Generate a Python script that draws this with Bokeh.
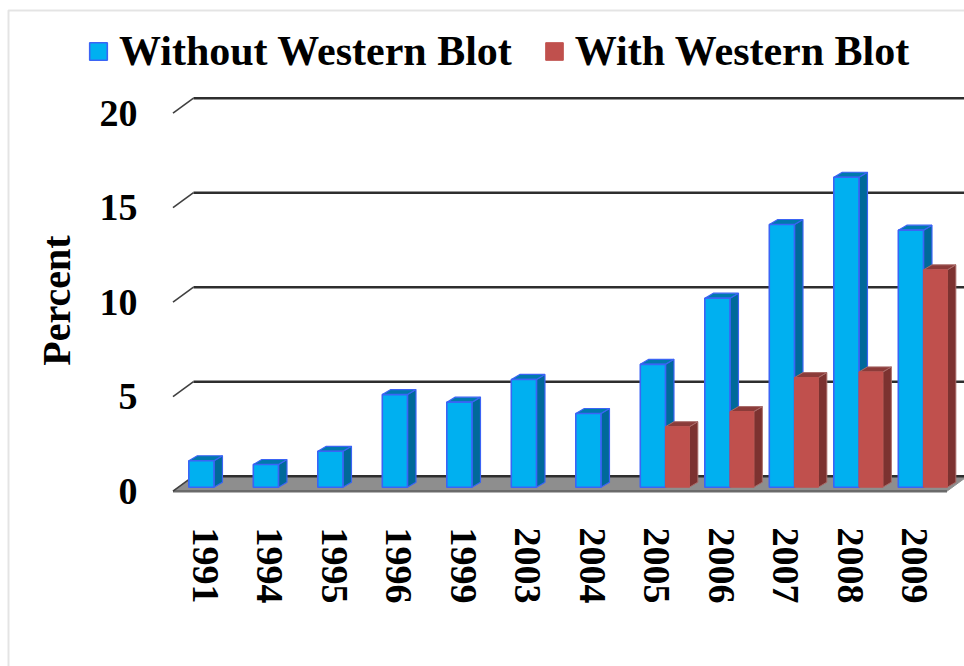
import math
from bokeh.plotting import figure
from bokeh.models import (Range1d, FixedTicker, Legend, LegendItem,
                          ColumnDataSource, BoxAnnotation, Label)
from bokeh.embed import file_html
from bokeh.resources import INLINE

# ---------------- data ----------------
years = ["1991", "1994", "1995", "1996", "1999", "2003", "2004",
         "2005", "2006", "2007", "2008", "2009"]
without_wb = [1.4, 1.2, 1.9, 4.9, 4.5, 5.7, 3.9, 6.5, 10.0, 13.9, 16.4, 13.6]
with_wb = [None, None, None, None, None, None, None, 3.2, 4.0, 5.8, 6.1, 11.5]
y_ticks = [0, 5, 10, 15, 20]
series_names = ["Without Western Blot", "With Western Blot"]
y_title = "Percent"

# ---------------- 3D geometry (styling) ----------------
GDX, GDY = 0.318, 0.794      # depth of the floor / back wall
BDX, BDY = 0.132, 0.265      # depth of each bar
Z0 = 0.212                   # bar base (sits a bit into the floor)
BLUE_L, BLUE_R = 0.245, 0.635
RED_L, RED_R = 0.635, 1.005
N = len(years)
cat_pos = [i + 0.5 for i in range(N)]

FONT = "Liberation Serif"


def faces(vals, lo, hi):
    front = dict(left=[], right=[], bottom=[], top=[])
    side = dict(xs=[], ys=[])
    top = dict(xs=[], ys=[])
    for i, v in enumerate(vals):
        if v is None:
            continue
        xl, xr = i + lo, i + hi
        yt = v + Z0
        front["left"].append(xl); front["right"].append(xr)
        front["bottom"].append(Z0); front["top"].append(yt)
        side["xs"].append([xr, xr, xr + BDX, xr + BDX])
        side["ys"].append([Z0, yt, yt + BDY, Z0 + BDY])
        top["xs"].append([xl, xr, xr + BDX, xl + BDX])
        top["ys"].append([yt, yt, yt + BDY, yt + BDY])
    return (ColumnDataSource(front), ColumnDataSource(side), ColumnDataSource(top))


p = figure(width=964, height=666,
           x_range=Range1d(-2.6744, 12.2713),
           y_range=Range1d(-9.275, 25.963),
           output_backend="svg", toolbar_location=None,
           min_border_left=0, min_border_right=0,
           min_border_top=0, min_border_bottom=0)
p.xgrid.visible = False
p.ygrid.visible = False
p.outline_line_color = None
p.background_fill_color = "white"
p.border_fill_color = "white"

# outer frame of the chart picture (left and top edges visible)
p.add_layout(BoxAnnotation(left=8, right=3000, top=10, bottom=3000,
                           left_units="canvas", right_units="canvas",
                           top_units="canvas", bottom_units="canvas",
                           fill_alpha=0, line_color="#a4a4a4", line_width=2))

# floor
p.patch([0, N, N + GDX, GDX], [0, 0, GDY, GDY],
        fill_color="#8e8e8e", line_color="#8e8e8e", line_width=1)
p.line([0, N], [0, 0], line_color="#6a6a6a", line_width=2.5)

# back-wall gridlines with the small diagonal depth ticks
for v in y_ticks:
    p.line([GDX, N + GDX + 1], [v + GDY, v + GDY],
           line_color="#2e2e2e", line_width=2.6)
    p.line([0, GDX], [v, v + GDY], line_color="#404040", line_width=1.6)

# bars
bf, bs, bt = faces(without_wb, BLUE_L, BLUE_R)
rf, rs, rt = faces(with_wb, RED_L, RED_R)

p.patches("xs", "ys", source=bs, fill_color="#00699a",
          line_color="#3b64f5", line_width=1.2)
p.patches("xs", "ys", source=bt, fill_color="#0079ad",
          line_color="#3b64f5", line_width=1.2)
blue_r = p.quad(left="left", right="right", bottom="bottom", top="top",
                source=bf, fill_color="#00b0f0", line_color="#3b64f5",
                line_width=1.6)

p.patches("xs", "ys", source=rs, fill_color="#7c3230",
          line_color="#a86a68", line_width=1)
p.patches("xs", "ys", source=rt, fill_color="#8b3b39",
          line_color="#a86a68", line_width=1)
red_r = p.quad(left="left", right="right", bottom="bottom", top="top",
               source=rf, fill_color="#c0504d", line_color="#c0504d",
               line_width=1)

# axes (labels drawn inward, onto the picture area)
p.yaxis.ticker = FixedTicker(ticks=y_ticks)
p.yaxis.axis_line_color = None
p.yaxis.major_tick_line_color = None
p.yaxis.minor_tick_line_color = None
p.yaxis.major_tick_out = 0
p.yaxis.major_tick_in = 0
p.yaxis.major_label_standoff = -137
p.yaxis.major_label_text_font = FONT
p.yaxis.major_label_text_font_style = "bold"
p.yaxis.major_label_text_font_size = "38px"
p.yaxis.major_label_text_color = "black"

# y-axis title, placed beside the value axis
p.add_layout(Label(x=-1.806, y=10.09, text=y_title, angle=math.pi / 2,
                   text_align="center", text_baseline="middle",
                   text_font=FONT, text_font_style="bold",
                   text_font_size="40px", text_color="black"))

p.xaxis.ticker = FixedTicker(ticks=cat_pos)
overrides = {}
for pos, yr in zip(cat_pos, years):
    overrides[pos] = yr
    overrides[str(pos)] = yr
p.xaxis.major_label_overrides = overrides
p.xaxis.axis_line_color = None
p.xaxis.major_tick_line_color = None
p.xaxis.minor_tick_line_color = None
p.xaxis.major_tick_out = 0
p.xaxis.major_tick_in = 0
p.xaxis.major_label_standoff = -139
p.xaxis.major_label_orientation = -math.pi / 2
p.xaxis.major_label_text_font = FONT
p.xaxis.major_label_text_font_style = "bold"
p.xaxis.major_label_text_font_size = "38px"
p.xaxis.major_label_text_color = "black"

# legend
legend = Legend(items=[LegendItem(label=series_names[0], renderers=[blue_r]),
                       LegendItem(label=series_names[1], renderers=[red_r])],
                orientation="horizontal", location=(87, 591),
                glyph_width=22, glyph_height=22, label_standoff=10, spacing=31,
                padding=0, margin=0, border_line_color=None,
                background_fill_alpha=0,
                label_text_font=FONT, label_text_font_style="bold",
                label_text_font_size="42px", label_text_color="black")
p.add_layout(legend)

open("out.html", "w").write(file_html(p, INLINE))
